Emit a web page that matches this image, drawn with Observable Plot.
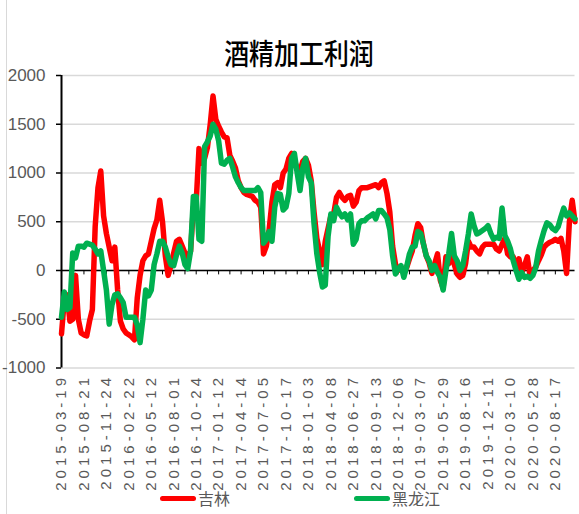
<!DOCTYPE html>
<html><head><meta charset="utf-8">
<script src="https://cdn.jsdelivr.net/npm/d3@7"></script>
<script src="https://cdn.jsdelivr.net/npm/@observablehq/plot@0.6"></script>
<style>
body{margin:0;background:#fff;}
#wrap{position:relative;width:579px;height:514px;overflow:hidden;background:#fff;font-family:"Liberation Sans",Arial,sans-serif;}
#border{position:absolute;left:6px;top:0;width:1px;height:514px;background:#d9d9d9;}
#title{position:absolute;left:0;width:598px;top:32px;text-align:center;font-family:"Noto Sans CJK SC",sans-serif;font-size:29px;font-weight:500;line-height:40px;color:#000;transform:scaleX(0.86);transform-origin:299px 0;}
#chart{position:absolute;left:0;top:68px;}
.lg{position:absolute;top:487px;height:22px;display:flex;align-items:center;font-family:"Noto Sans CJK SC",sans-serif;font-size:16px;color:#595959;}
.sw{display:inline-block;width:36px;height:5px;border-radius:3px;margin-right:2px;}
</style></head>
<body><div id="wrap"><div id="border"></div><div id="title">酒精加工利润</div><div id="chart"></div>
<div class="lg" style="left:160px"><span class="sw" style="background:#ff0000"></span>吉林</div>
<div class="lg" style="left:354px"><span class="sw" style="background:#00b050"></span>黑龙江</div>
</div>
<script>
const dateLabels=["2015-03-19","2015-08-21","2015-11-24","2016-02-22","2016-05-12","2016-08-01","2016-10-24","2017-01-12","2017-04-14","2017-07-05","2017-10-17","2018-01-03","2018-04-08","2018-06-27","2018-09-13","2018-12-06","2019-03-07","2019-05-29","2019-08-16","2019-12-11","2020-03-10","2020-05-28","2020-08-17"];
const jilin=[-650,-300,-250,-520,-500,-50,-500,-640,-660,-670,-520,-400,450,850,1020,560,380,240,100,240,-200,-520,-600,-640,-660,-680,-710,-280,-50,100,150,170,300,430,520,720,500,150,-50,50,180,300,320,250,180,140,200,650,700,1250,1100,1150,1260,1500,1790,1550,1480,1420,1370,1360,1180,1120,1050,920,850,800,780,770,760,720,700,650,170,250,420,700,880,900,850,1000,1040,1150,1200,1120,1050,1020,1120,1150,1080,920,600,330,200,60,300,430,560,580,750,800,750,720,760,770,660,700,820,850,850,850,860,870,880,850,900,920,790,600,250,70,0,30,-30,30,120,200,360,480,440,270,150,80,-30,70,170,-100,-180,140,70,150,60,-35,-70,-50,70,300,240,240,200,170,240,270,270,270,270,220,200,270,330,170,140,140,30,120,-20,50,140,-60,0,35,100,160,240,270,290,300,320,300,330,200,-30,500,720,500];
const heilongjiang=[-480,-220,-400,-380,180,130,250,250,240,280,270,260,220,170,200,0,-200,-550,-350,-250,-240,-280,-330,-480,-480,-480,-480,-560,-740,-500,-200,-260,-200,60,170,300,300,240,140,60,50,160,250,180,60,20,200,760,760,320,300,1270,1320,1380,1500,1450,1330,1100,1090,1130,1150,1060,960,900,850,820,820,820,820,820,850,800,280,320,400,300,650,790,780,620,650,790,1150,1200,1000,820,1050,1150,960,900,480,170,-20,-170,-150,350,580,510,650,590,550,580,520,580,270,320,480,510,510,540,560,580,530,615,615,580,540,420,150,-35,20,50,-70,40,170,240,250,400,380,270,150,100,0,50,-20,-70,-200,0,170,380,150,100,0,50,200,375,580,460,375,390,410,430,460,380,320,340,330,640,360,300,220,100,0,-90,-20,-70,-60,-80,-50,30,200,310,410,490,470,430,410,450,550,640,560,590,560,530];
const yTicks=[-1000,-500,0,500,1000,1500,2000];
const labelStep=8, minorStep=4;

const n=jilin.length;
const idx=d3.range(n);
const dataJ=idx.map(i=>({i,v:jilin[i]}));
const dataH=idx.map(i=>({i,v:heilongjiang[i]}));
const labelIdx=dateLabels.map((d,k)=>k*labelStep);
const minorIdx=d3.range(0,n,minorStep);
const narrow="Liberation Sans Narrow, Liberation Sans, Arial, sans-serif";

const plot=Plot.plot({
  width:579,height:425,marginLeft:61,marginRight:4.5,marginTop:7,marginBottom:125.5,
  x:{type:"linear",domain:[0,n-1],label:null},
  y:{domain:[-1000,2000],label:null},
  style:{fontFamily:narrow,background:"transparent",overflow:"visible"},
  marks:[
    Plot.gridY(yTicks,{stroke:"#d9d9d9",strokeOpacity:1,strokeWidth:1.5}),
    Plot.axisY(yTicks,{tickSize:5,tickPadding:11,fontSize:17,stroke:"#000",strokeWidth:1.5,fill:"#595959",tickFormat:d=>String(d),label:null}),
    Plot.axisX(labelIdx,{tickSize:0,tickPadding:6,tickRotate:-90,fontSize:15,fill:"#595959",tickFormat:i=>dateLabels[i/labelStep],label:null}),
    Plot.ruleX([0],{y1:-1000,y2:2000,stroke:"#000",strokeWidth:2}),
    Plot.ruleY([0],{x1:0,x2:n-1,stroke:"#000",strokeWidth:1.5}),
    Plot.ruleX(minorIdx,{y1:0,y2:-45,stroke:"#000",strokeWidth:1}),
    Plot.line(dataJ,{x:"i",y:"v",stroke:"#ff0000",strokeWidth:5.5}),
    Plot.line(dataH,{x:"i",y:"v",stroke:"#00b050",strokeWidth:5.5})
  ]
});
d3.select(plot).selectAll('[aria-label="x-axis tick label"] text').style("letter-spacing","4px");
document.getElementById("chart").appendChild(plot);
</script>
</body></html>
